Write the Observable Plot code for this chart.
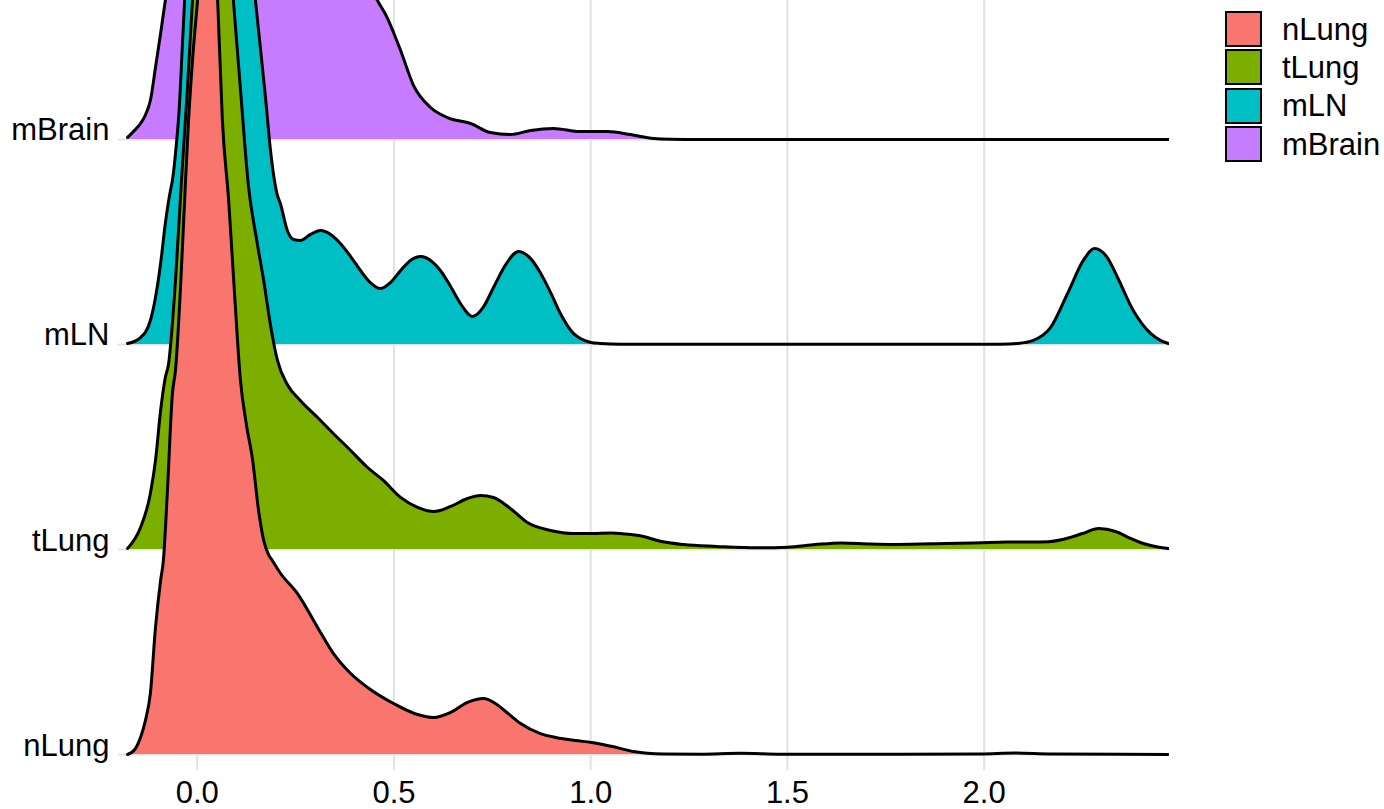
<!DOCTYPE html>
<html>
<head>
<meta charset="utf-8">
<script src="https://cdn.jsdelivr.net/npm/d3@7"></script>
<script src="https://cdn.jsdelivr.net/npm/@observablehq/plot@0.6"></script>
<style>
  html, body { margin: 0; padding: 0; background: #fff; }
  #wrap { position: relative; width: 1384px; height: 809px; overflow: hidden; font-family: "Liberation Sans", Arial, sans-serif; }
  #legend { position: absolute; left: 1225px; top: 10px; }
  .row { display: flex; align-items: center; height: 38.3px; }
  .sw { width: 37px; height: 36px; box-sizing: border-box; border: 2.6px solid #000; }
  .lab { margin-left: 20px; font-size: 31px; color: #000; line-height: 1; }
</style>
</head>
<body>
<div id="wrap"><div id="chart"></div><div id="legend"></div></div>
<script>
// Categories (bottom to top) and their fills
const categories = ["nLung", "tLung", "mLN", "mBrain"];
const colors = ["#F8766D", "#7CAE00", "#00BFC4", "#C77CFF"];
const xTicks = [0, 0.5, 1, 1.5, 2];

// Ridge heights (in units of the spacing between ridges)
const nLungX = [-0.177,-0.157,-0.144,-0.131,-0.119,-0.106,-0.093,-0.086,-0.076,-0.063,-0.055,-0.042,-0.032,-0.022,-0.012,0.001,0.011,0.021,0.031,0.041,0.052,0.064,0.080,0.095,0.110,0.125,0.141,0.156,0.169,0.181,0.191,0.212,0.255,0.306,0.346,0.390,0.433,0.499,0.560,0.601,0.644,0.687,0.728,0.758,0.784,0.822,0.872,0.911,0.961,1.002,1.055,1.109,1.183,1.279,1.381,1.482,1.787,1.991,2.080,2.169,2.468];
const nLungD = [0,0.029,0.083,0.171,0.298,0.620,0.849,0.946,1.273,1.761,1.878,2.293,2.702,3.093,3.385,3.678,3.902,4.122,4.244,4.098,3.678,3.093,2.702,2.244,1.824,1.610,1.434,1.190,1.044,0.976,0.946,0.883,0.785,0.620,0.493,0.395,0.327,0.249,0.195,0.180,0.205,0.254,0.273,0.249,0.210,0.151,0.102,0.083,0.068,0.059,0.039,0.015,0.003,0.0015,0.006,0.0015,0.0015,0.0025,0.007,0.002,0.0005];

const tLungX = [-0.177,-0.144,-0.119,-0.106,-0.093,-0.081,-0.073,-0.055,-0.040,-0.025,-0.012,0.001,0.013,0.029,0.041,0.054,0.072,0.092,0.110,0.130,0.151,0.169,0.186,0.204,0.229,0.262,0.306,0.346,0.390,0.433,0.473,0.517,0.560,0.601,0.644,0.687,0.720,0.753,0.796,0.839,0.898,0.956,1.002,1.050,1.086,1.129,1.177,1.236,1.320,1.424,1.500,1.571,1.637,1.711,1.775,1.902,2.059,2.163,2.219,2.250,2.291,2.334,2.372,2.397,2.435,2.468];
const tLungD = [0.005,0.107,0.273,0.434,0.678,0.839,0.902,1.317,1.800,2.244,2.678,3.024,3.341,3.561,3.610,3.512,3.171,2.678,2.244,1.780,1.512,1.312,1.098,0.922,0.805,0.727,0.644,0.566,0.483,0.400,0.337,0.254,0.205,0.185,0.210,0.249,0.263,0.254,0.200,0.132,0.093,0.078,0.078,0.080,0.076,0.066,0.040,0.024,0.015,0.008,0.011,0.024,0.032,0.027,0.025,0.029,0.036,0.038,0.059,0.078,0.102,0.088,0.054,0.034,0.015,0.005];

const mLNX = [-0.177,-0.144,-0.119,-0.106,-0.093,-0.081,-0.068,-0.063,-0.053,-0.045,-0.040,-0.035,-0.030,-0.017,-0.004,0.008,0.026,0.041,0.059,0.080,0.102,0.123,0.148,0.161,0.174,0.186,0.202,0.212,0.229,0.245,0.262,0.288,0.313,0.339,0.364,0.390,0.415,0.440,0.466,0.491,0.517,0.542,0.568,0.593,0.618,0.644,0.669,0.700,0.728,0.753,0.784,0.817,0.847,0.872,0.898,0.923,0.956,0.974,1.000,1.025,1.076,2.041,2.085,2.125,2.169,2.212,2.252,2.280,2.313,2.339,2.379,2.423,2.448,2.468];
const mLND = [0.005,0.034,0.117,0.229,0.395,0.590,0.751,0.800,0.976,1.171,1.366,1.561,1.756,2.195,2.634,2.927,3.122,3.146,3.024,2.732,2.390,2.073,1.678,1.439,1.195,0.951,0.741,0.683,0.556,0.512,0.507,0.537,0.556,0.537,0.493,0.429,0.361,0.302,0.273,0.302,0.361,0.410,0.429,0.410,0.361,0.283,0.200,0.137,0.185,0.278,0.390,0.454,0.420,0.350,0.254,0.151,0.054,0.029,0.010,0.005,0.001,0.001,0.005,0.020,0.083,0.249,0.410,0.468,0.424,0.327,0.166,0.054,0.020,0.005];

const mBrainX = [-0.177,-0.162,-0.144,-0.131,-0.119,-0.106,-0.093,-0.081,-0.068,-0.055,-0.030,0.008,0.059,0.135,0.212,0.288,0.364,0.415,0.440,0.458,0.484,0.499,0.517,0.550,0.593,0.636,0.695,0.745,0.796,0.847,0.905,0.974,1.043,1.101,1.160,1.203,1.279,2.468];
const mBrainD = [0.010,0.039,0.078,0.122,0.190,0.351,0.517,0.678,0.829,0.976,1.171,1.317,1.390,1.415,1.366,1.259,0.976,0.829,0.741,0.678,0.590,0.522,0.434,0.263,0.156,0.107,0.078,0.034,0.024,0.044,0.054,0.039,0.039,0.024,0.005,0.0015,0,0];

const xDomain = [-0.2, 2.471];
const yDomain = [-0.078, 3.678];

const seriesX = [nLungX, tLungX, mLNX, mBrainX];
const seriesD = [nLungD, tLungD, mLND, mBrainD];

const series = categories.map((name, i) => ({
  name, i, color: colors[i],
  pts: seriesX[i].map((x, j) => ({x, b: i, t: i + seriesD[i][j]}))
}));

// draw the top ridge first, lower ridges over it
const ridgeMarks = series.slice().reverse().flatMap(s => [
  Plot.area(s.pts, {x1: "x", y1: "b", y2: "t", fill: s.color, curve: "monotone-x", clip: true}),
  Plot.line(s.pts, {x: "x", y: "t", stroke: "#000", strokeWidth: 3, curve: "monotone-x", clip: true})
]);

const chart = Plot.plot({
  width: 1384,
  height: 809,
  marginLeft: 118,
  marginRight: 215,
  marginTop: 0,
  marginBottom: 39,
  style: {fontFamily: "'Liberation Sans', Arial, sans-serif", fontSize: "31px", color: "#000", background: "transparent", overflow: "visible"},
  x: {domain: xDomain},
  y: {domain: yDomain, axis: null},
  marks: [
    Plot.gridX(xTicks, {stroke: "#e2e2e2", strokeOpacity: 1, strokeWidth: 2}),
    Plot.gridY(categories.map((d, i) => i), {stroke: "#e2e2e2", strokeOpacity: 1, strokeWidth: 2}),
    ...ridgeMarks,
    Plot.axisX(xTicks, {tickSize: 0, tickPadding: 10, tickFormat: d3.format(".1f"), fontSize: 31, label: null}),
    Plot.text(categories, {y: (d, i) => i, text: d => d, frameAnchor: "left", textAnchor: "end", dx: -9, lineAnchor: "bottom", dy: 1, fontSize: 31, fill: "#000"})
  ]
});
document.getElementById("chart").appendChild(chart);

const legend = document.getElementById("legend");
categories.forEach((name, i) => {
  const row = document.createElement("div");
  row.className = "row";
  const sw = document.createElement("div");
  sw.className = "sw";
  sw.style.background = colors[i];
  const lab = document.createElement("span");
  lab.className = "lab";
  lab.textContent = name;
  row.appendChild(sw);
  row.appendChild(lab);
  legend.appendChild(row);
});
</script>
</body>
</html>
